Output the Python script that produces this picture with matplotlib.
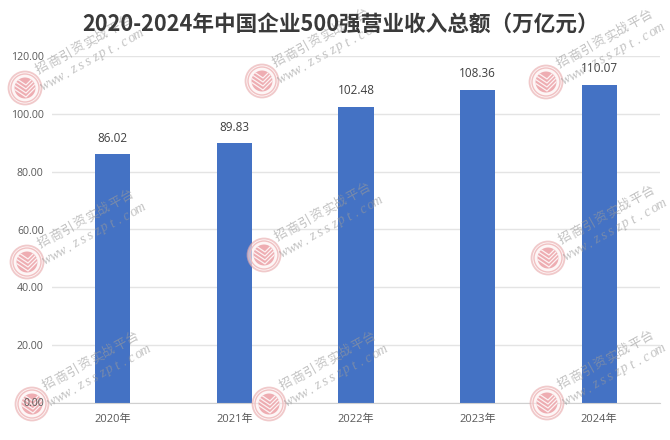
import numpy as np
import matplotlib
matplotlib.use('Agg')
import matplotlib.pyplot as plt
from matplotlib.patches import Circle

plt.rcParams['font.family'] = ['Open Sans', 'Noto Sans CJK SC', 'DejaVu Sans']

years = ['2020年', '2021年', '2022年', '2023年', '2024年']
revenue = [86.02, 89.83, 102.48, 108.36, 110.07]
yticks = [0, 20, 40, 60, 80, 100, 120]
# watermark logo centres in pixels
logos = [(25, 88), (262, 81), (546, 82), (27, 262), (264, 255), (548, 258),
         (32, 404), (269, 404), (547, 403)]

W, H = 670, 440
fig = plt.figure(figsize=(W / 100, H / 100), dpi=100)
ax = fig.add_axes([52 / W, 1 - 403 / H, 608 / W, 347 / H])

ax.bar(range(5), revenue, width=0.29, color='#4472c4', zorder=2)
for i, v in enumerate(revenue):
    ax.annotate(f'{v:.2f}', (i, v), xytext=(0, 11.5), textcoords='offset points',
                ha='center', va='center', fontsize=8.5, color='#404040')

ax.set_xlim(-0.5, 4.5)
ax.set_ylim(0, 120)
ax.set_yticks(yticks)
ax.set_yticklabels([f'{t:.2f}' for t in yticks], fontsize=7.6, color='#595959')
ax.set_xticks(range(5))
ax.set_xticklabels(years, fontsize=8, color='#595959')
ax.tick_params(axis='y', length=0, pad=6)
ax.tick_params(axis='x', length=0, pad=8)
ax.grid(axis='y', color='#e4e4e4', lw=1, zorder=0)
for s in ['top', 'right', 'left']:
    ax.spines[s].set_visible(False)
ax.spines['bottom'].set_color('#d0d0d0')

fig.text(341 / W, 1 - 24 / H, '2020-2024年中国企业500强营业收入总额（万亿元）',
         ha='center', va='center', fontsize=15.6, fontweight='bold', color='#3a3a3a',
         family=['Noto Sans CJK SC', 'DejaVu Sans'])

# watermark overlay, drawn in pixel coordinates
ov = fig.add_axes([0, 0, 1, 1], facecolor='none')
ov.set_xlim(0, W)
ov.set_ylim(H, 0)
ov.axis('off')


def spaced(cx, cy, s, pitch, **kw):
    # matplotlib has no letter spacing, so place each character along the 29 degree line
    a = np.radians(29)
    for k, ch in enumerate(s):
        d = (k - (len(s) - 1) / 2) * pitch
        ov.text(cx + d * np.cos(a), cy - d * np.sin(a), ch, rotation=29, ha='center', va='center',
                color='#9a9a9a', alpha=0.6, **kw)


for x, y in logos:
    ov.add_patch(Circle((x, y), 16.5, fc='#fdf0f0', ec='#e8a9ab', lw=1.3, alpha=0.6))
    ov.add_patch(Circle((x, y), 14, fc='none', ec='#efb8ba', lw=1, alpha=0.85))
    blob = Circle((x, y), 10.5, fc='#e9959b', ec='none', alpha=0.75)
    ov.add_patch(blob)
    # white chevrons inside the logo
    for off in [-6, -2, 2, 6]:
        ln, = ov.plot([x - 11, x + 1, x + 11], [y + off - 5, y + off + 3, y + off - 7],
                      color='white', lw=0.9, alpha=0.85)
        ln.set_clip_path(blob)
    spaced(x + 59, y - 43, '招商引资实战平台', 13.6, fontsize=9.3,
           family=['Noto Sans CJK SC'])
    spaced(x + 67, y - 28, 'www.zsszpt.com', 8.2, fontsize=10,
           family=['Liberation Serif'], style='italic')

# the zero label sits on top of the logo in the reference
ax.get_yticklabels()[0].set_visible(False)
ov.text(44, 403, f'{yticks[0]:.2f}', ha='right', va='center', fontsize=7.6, color='#595959')

fig.savefig('out.png', dpi=100)
